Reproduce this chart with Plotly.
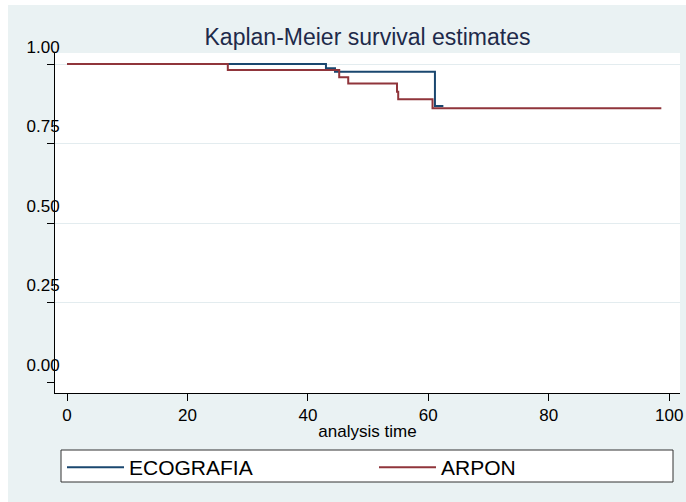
import plotly.graph_objects as go

# Kaplan-Meier step data
eco_time = [0, 43.0, 44.5, 61.1, 62.5]
eco_surv = [1.0, 0.987, 0.976, 0.868, 0.868]

arp_time = [0, 26.7, 45.2, 46.7, 54.8, 55.0, 60.7, 98.7]
arp_surv = [1.0, 0.981, 0.958, 0.939, 0.913, 0.889, 0.861, 0.861]

x_ticks = [0, 20, 40, 60, 80, 100]
y_ticks = [0, 0.25, 0.5, 0.75, 1.0]
grid_vals = [0.25, 0.5, 0.75, 1.0]

BG = "#eaf2f3"
BLUE = "#1a476f"
RED = "#90353b"
FONT = "Liberation Sans, Arial, sans-serif"

W, H = 686, 502
L, R, T, B = 55, 6, 53, 109
pw, ph = W - L - R, H - T - B

def px_x(p):
    return (p - L) / pw

def px_y(p):
    return (H - B - p) / ph

fig = go.Figure()
fig.add_trace(go.Scatter(x=eco_time, y=eco_surv, mode="lines", line=dict(shape="hv", color=BLUE, width=2),
                         name="ECOGRAFIA"))
fig.add_trace(go.Scatter(x=arp_time, y=arp_surv, mode="lines", line=dict(shape="hv", color=RED, width=2),
                         name="ARPON"))
# invisible trace to carry the overlay grid axis
fig.add_trace(go.Scatter(x=[0], y=[0], yaxis="y2", mode="markers", marker=dict(opacity=0),
                         showlegend=False, hoverinfo="skip"))

fig.update_layout(
    width=W, height=H,
    margin=dict(l=L, r=R, t=T, b=B, autoexpand=False),
    paper_bgcolor="white",
    plot_bgcolor="white",
    font=dict(family=FONT, color="black"),
    title=dict(text="Kaplan-Meier survival estimates", x=367.5 / W, xanchor="center",
               y=1 - 37 / H, yanchor="middle", yref="container",
               font=dict(size=23, color="#1e2a4a", family=FONT)),
    xaxis=dict(range=[-2.0, 101.8], tickvals=x_ticks, ticks="outside", ticklen=7, tickcolor="black",
               showline=True, linecolor="black", linewidth=1, mirror=False, showgrid=False, zeroline=False,
               tickfont=dict(size=17, color="black"),
               title=dict(text="analysis time", font=dict(size=17, color="black"), standoff=0)),
    yaxis=dict(range=[-0.0346, 1.0346], tickvals=y_ticks, tickformat=".2f", ticks="outside", ticklen=7,
               tickcolor="black", showline=True, linecolor="black", linewidth=1, showgrid=False,
               zeroline=False, tickfont=dict(size=17, color="black"),
               ticklabelshift=-17, ticklabelstandoff=-16),
    yaxis2=dict(range=[-0.0346, 1.0346], overlaying="y", tickvals=grid_vals, showticklabels=False,
                ticks="", showline=False, showgrid=True, gridcolor="#e3ecef", gridwidth=1, zeroline=False),
    legend=dict(orientation="h", x=px_x(62), y=px_y(447), xanchor="left", yanchor="top",
                bgcolor="rgba(0,0,0,0)", borderwidth=0,
                font=dict(size=21, color="black", family=FONT),
                entrywidth=240, entrywidthmode="pixels", itemwidth=57),
    shapes=[
        dict(type="rect", xref="paper", yref="paper", x0=px_x(8), x1=px_x(W + 2), y0=px_y(5), y1=px_y(H + 2),
             fillcolor=BG, line=dict(width=0), layer="below"),
        dict(type="rect", xref="paper", yref="paper", x0=0, x1=1, y0=0, y1=1,
             fillcolor="white", line=dict(width=0), layer="below"),
        # legend frame
        dict(type="rect", xref="paper", yref="paper", x0=px_x(61), x1=px_x(673), y0=px_y(450), y1=px_y(482),
             fillcolor="white", line=dict(width=1, color="#333333"), layer="below"),
    ],
)

fig.write_html("out.html")
